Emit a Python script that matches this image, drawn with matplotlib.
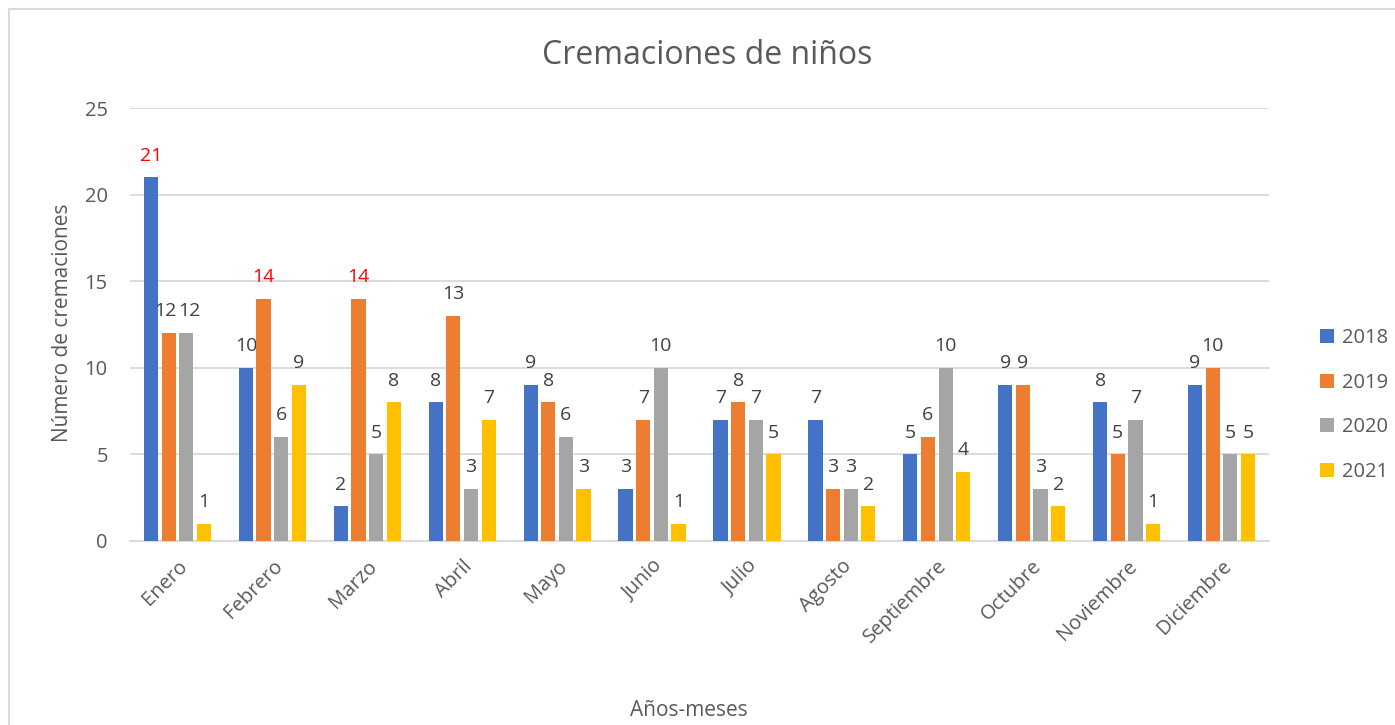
import numpy as np
import matplotlib.pyplot as plt
from matplotlib.patches import Rectangle

plt.rcParams['font.family'] = ['Open Sans', 'DejaVu Sans']

meses = ['Enero', 'Febrero', 'Marzo', 'Abril', 'Mayo', 'Junio', 'Julio',
         'Agosto', 'Septiembre', 'Octubre', 'Noviembre', 'Diciembre']
anios = ['2018', '2019', '2020', '2021']
c2018 = [21, 10, 2, 8, 9, 3, 7, 7, 5, 9, 8, 9]
c2019 = [12, 14, 14, 13, 8, 7, 8, 3, 6, 9, 5, 10]
c2020 = [12, 6, 5, 3, 6, 10, 7, 3, 10, 3, 7, 5]
c2021 = [1, 9, 8, 7, 3, 1, 5, 2, 4, 2, 1, 5]
# labels shown in red: (year index, month index)
destacados = [(0, 0), (1, 1), (1, 2)]
# small sideways nudge (points) for labels that would collide
empujes = {(1, 0): -2.5, (2, 0): 2.5}

series = [c2018, c2019, c2020, c2021]
colores = ['#4472C4', '#ED7D31', '#A5A5A5', '#FFC000']

fig = plt.figure(figsize=(13.95, 7.25), dpi=100)
ax = fig.add_axes([130/1395, 1 - 541/725, (1269-130)/1395, (541-108)/725])

# chart frame
fig.patches.append(Rectangle((9/1395, -0.05), 1.1, 1 - 9/725 + 0.05,
                             transform=fig.transFigure, fill=False,
                             edgecolor='#D9D9D9', linewidth=1.5))

x = np.arange(len(meses))
paso = 0.186
ancho = 0.15
for i, (datos, col, anio) in enumerate(zip(series, colores, anios)):
    pos = x + (i - 1.5) * paso
    ax.bar(pos, datos, width=ancho, color=col, label=anio, zorder=3)
    for j, (p, v) in enumerate(zip(pos, datos)):
        color_txt = '#FF0000' if (i, j) in destacados else '#404040'
        dx = empujes.get((i, j), 0)
        ax.annotate(str(v), (p, v), xytext=(dx, 12), textcoords='offset points',
                    ha='center', va='baseline', fontsize=14, color=color_txt)

ax.set_xlim(-0.5, len(meses) - 0.5)
ax.set_ylim(0, 25)
ax.set_yticks(range(0, 26, 5))
ax.yaxis.grid(True, color='#D9D9D9', linewidth=1.3, zorder=0)
ax.tick_params(axis='y', length=0, pad=16, labelsize=14.5, labelcolor='#595959')
ax.tick_params(axis='x', length=0, pad=11, labelsize=14.5, labelcolor='#595959')
ax.set_xticks(x)
ax.set_xticklabels(meses, rotation=45, ha='right', rotation_mode='anchor')
for s in ['top', 'right', 'left']:
    ax.spines[s].set_visible(False)
ax.spines['bottom'].set_color('#D9D9D9')
ax.spines['bottom'].set_linewidth(1.3)

fig.text(707/1395, 1 - 55/725, 'Cremaciones de niños', ha='center', va='center',
         fontsize=23, color='#595959')
fig.text(689/1395, 1 - 711/725, 'Años-meses', ha='center', va='center',
         fontsize=15, color='#595959')
fig.text(62/1395, 1 - 323/725, 'Número de cremaciones', ha='center', va='center',
         rotation=90, fontsize=15, color='#595959')

fig.legend(loc='center left', bbox_to_anchor=(1302/1395, 1 - 405/725),
           frameon=False, fontsize=14.5, labelcolor='#595959',
           handlelength=0.7, handleheight=0.7, handletextpad=0.4,
           labelspacing=1.23)

plt.savefig('out.png', dpi=100)
